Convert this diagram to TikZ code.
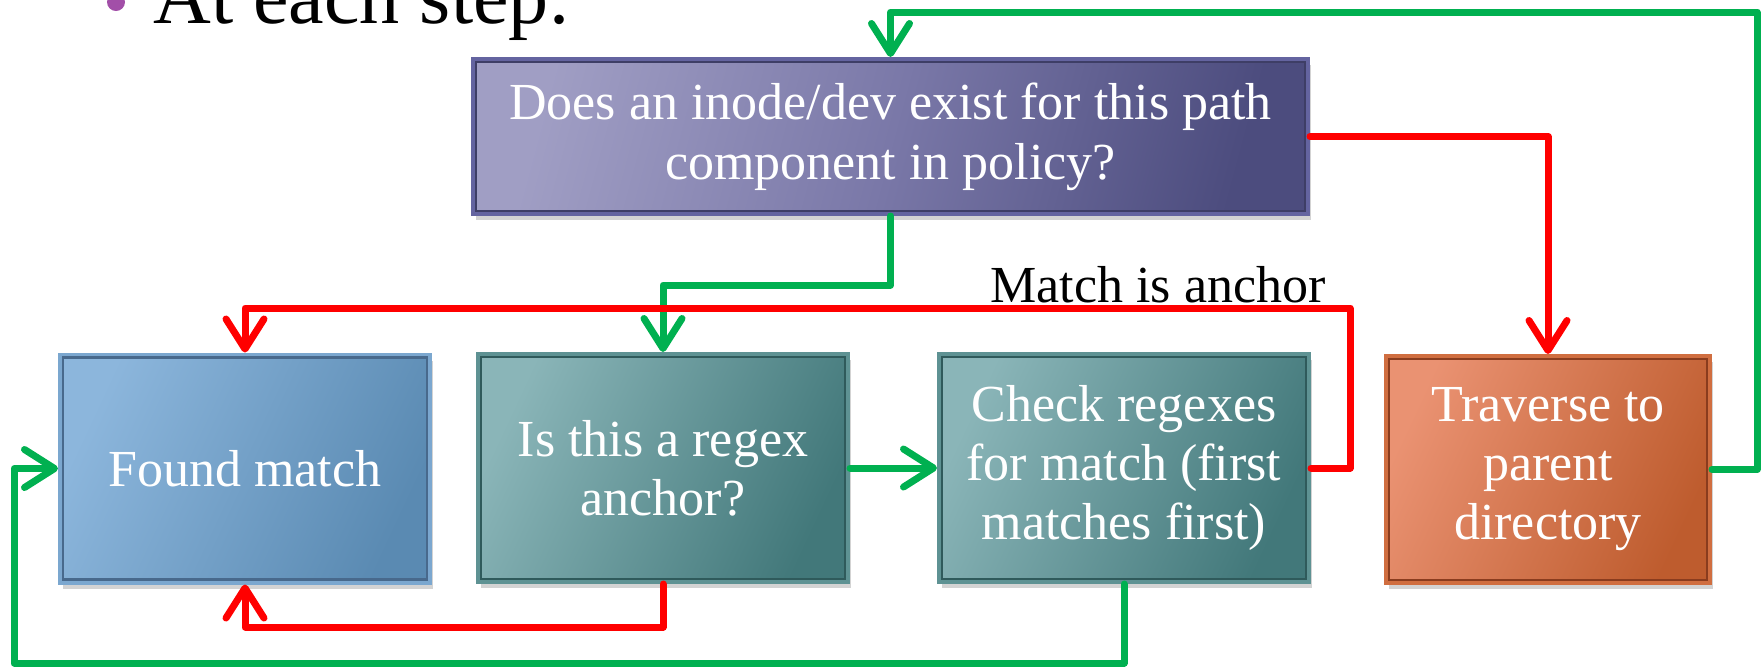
\documentclass[tikz,border=0pt]{standalone}
\usepackage{fontspec}
\setmainfont{Liberation Serif}
\usetikzlibrary{arrows.meta,shadows,calc}
\definecolor{pgreen}{HTML}{00B050}
\definecolor{pred}{HTML}{FF0000}
\definecolor{bulletc}{HTML}{A24FA8}
\definecolor{topL}{RGB}{160,158,196}
\definecolor{topM}{RGB}{122,120,168}
\definecolor{topR}{RGB}{76,76,126}
\definecolor{topB}{HTML}{6464A0}
\definecolor{topI}{HTML}{3E3E66}
\definecolor{blueL}{RGB}{140,182,220}
\definecolor{blueR}{RGB}{90,138,178}
\definecolor{blueB}{HTML}{7BA7CF}
\definecolor{blueI}{HTML}{48698C}
\definecolor{tealL}{RGB}{138,181,184}
\definecolor{tealR}{RGB}{66,120,122}
\definecolor{tealB}{HTML}{5E9293}
\definecolor{tealI}{HTML}{2F5A5B}
\definecolor{orL}{RGB}{234,146,114}
\definecolor{orR}{RGB}{190,92,46}
\definecolor{orB}{HTML}{D06E40}
\definecolor{orI}{HTML}{8A3C1E}
\tikzset{
  box/.style={draw=#1, line width=2pt, align=center, text=white,
    font=\fontsize{26pt}{29.5pt}\selectfont, inner sep=4pt,
    drop shadow={opacity=0.35, shadow xshift=1.5pt, shadow yshift=-3pt}},
  innerframe/.style={draw=#1, line width=1.2pt},
  conn/.style={line width=3.5pt, line join=round, line cap=round,
    -{Straight Barb[length=15pt,width=19pt,line cap=round,line join=round]}},
  lbl/.style={font=\fontsize{26pt}{28pt}\selectfont, text=black}
}
\begin{document}
\begin{tikzpicture}[x=0.5pt,y=-0.5pt]
\useasboundingbox (0,0) rectangle (1762,666);
% heading
\fill[bulletc] (116,2) circle (9);
\node[anchor=base west, inner sep=0pt, font=\fontsize{40pt}{44pt}\selectfont] (head) at (153,23) {At each step:};
% boxes
\node[box=topB, minimum width=417.5pt, minimum height=77.5pt,
  font=\fontsize{26pt}{30pt}\selectfont,
  left color=topL, right color=topR, middle color=topM, shading angle=75] (top) at (890.5,136.5)
  {Does an inode/dev exist for this path\\component in policy?};
\node[box=blueB, minimum width=185pt, minimum height=114pt,
  left color=blueL, right color=blueR, shading angle=65] (found) at (245,468.5)
  {Found match};
\node[box=tealB, minimum width=185pt, minimum height=114pt,
  left color=tealL, right color=tealR, shading angle=65] (anchor) at (663,468)
  {Is this a regex\\anchor?};
\node[box=tealB, minimum width=185pt, minimum height=114pt,
  left color=tealL, right color=tealR, shading angle=65] (check) at (1124,468)
  {Check regexes\\for match (first\\matches first)};
\node[box=orB, minimum width=162pt, minimum height=113.5pt,
  left color=orL, right color=orR, shading angle=65] (trav) at (1548,469.5)
  {Traverse to\\parent\\directory};
% inner frames
\foreach \n/\c in {top/topI, found/blueI, anchor/tealI, check/tealI, trav/orI}{
  \draw[innerframe=\c] ($(\n.north west)+(5,5)$) rectangle ($(\n.south east)+(-5,-5)$);
}
% coordinates
\coordinate (g1) at (1757,12);
\coordinate (g2) at (890.5,285);
\coordinate (r1) at (1350,308);
\coordinate (r2) at (663,627);
\coordinate (g3) at (1124,663);
\coordinate (g4) at (14,468.5);
% connectors
\draw[conn, pgreen] (trav.east) -| (g1) -| (top.north);
\draw[conn, pred] (top.east) -| (trav.north);
\draw[conn, pgreen] (top.south) -- (g2) -| (anchor.north);
\draw[conn, pred] (check.east) -| (r1) -| (found.north);
\draw[conn, pred] (anchor.south) -- (r2) -| (found.south);
\draw[conn, pgreen] (anchor.east) -- (check.west);
\draw[conn, pgreen] (check.south) -- (g3) -| (g4) -- (found.west);
% label
\node[lbl, anchor=base east, inner sep=0pt] (mlabel) at (1326,302) {Match is anchor};
\end{tikzpicture}
\end{document}
